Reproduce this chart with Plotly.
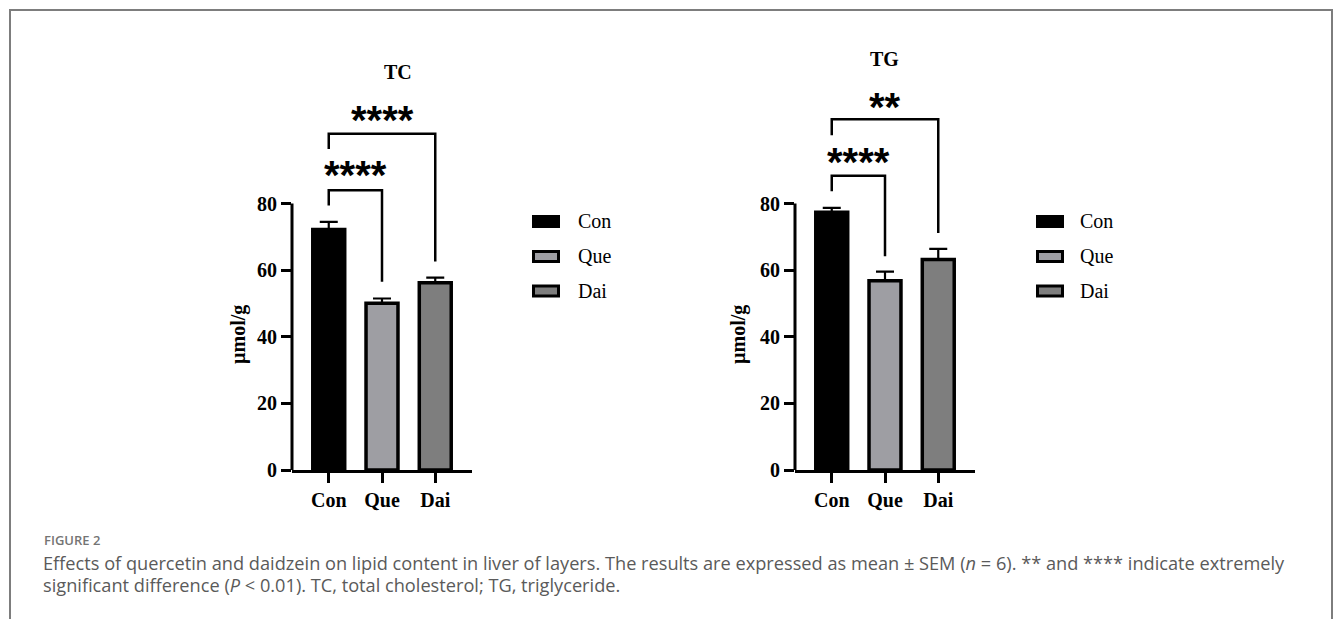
import plotly.graph_objects as go

# ---------------- data ----------------
categories = ["Con", "Que", "Dai"]
tc_means = [72.2, 50.1, 56.2]
tc_sem = [2.3, 1.4, 1.6]
tg_means = [77.4, 56.8, 63.2]
tg_sem = [1.3, 2.8, 3.2]
y_ticks = [0, 20, 40, 60, 80]
panel_titles = ["TC", "TG"]
y_label = "µmol/g"
# comparisons: (from idx, to idx, bracket top, left leg end, right leg end, stars, star y)
tc_comparisons = [(0, 1, 84.0, 79.4, 56.5, "****", 90.3),
                  (0, 2, 101.0, 96.4, 62.6, "****", 106.8)]
tg_comparisons = [(0, 1, 88.4, 83.7, 64.2, "****", 94.2),
                  (0, 2, 105.3, 100.5, 71.2, "**", 110.8)]
caption_label = "FIGURE 2"
caption_lines = [
    "Effects of quercetin and daidzein on lipid content in liver of layers. The results are expressed as mean ± SEM (<i>n</i> = 6). ** and **** indicate extremely",
    "significant difference (<i>P</i> &lt; 0.01). TC, total cholesterol; TG, triglyceride.",
]

# ---------------- styles ----------------
W, H = 1335, 619
fill_colors = ["#000000", "#9e9ea3", "#7e7e7e"]
SERIF = "Liberation Serif"
YMAX = 118
PXU = 3.33  # pixels per data unit
def px(x):
    return x / W
def py(y):
    return 1 - y / H

fig = go.Figure()

panels = [
    dict(means=tc_means, sem=tc_sem, comps=tc_comparisons, xa="x", ya="y",
         xdom=[px(292), px(472)], title=panel_titles[0], title_pos=(381.5, 72),
         ylab_x=238, leg_rect_x=(532, 560), leg_text_x=576),
    dict(means=tg_means, sem=tg_sem, comps=tg_comparisons, xa="x2", ya="y2",
         xdom=[px(795), px(975)], title=panel_titles[1], title_pos=(885, 59),
         ylab_x=738, leg_rect_x=(1036, 1064), leg_text_x=1078),
]
ydom = [py(470), py(470 - YMAX * PXU)]
leg_rows = [221.5, 256.5, 291]

shapes = []
annotations = []

for i, p in enumerate(panels):
    fig.add_trace(go.Bar(
        x=categories, y=p["means"], xaxis=p["xa"], yaxis=p["ya"],
        width=0.6,
        marker=dict(color=fill_colors, line=dict(color="black", width=3.5)),
        error_y=dict(type="data", symmetric=False, array=p["sem"],
                     arrayminus=[0] * len(p["sem"]), color="black",
                     thickness=2.2, width=9),
        showlegend=False, hoverinfo="skip",
    ))
    suffix = "" if i == 0 else "2"
    # y-axis line from 0 to 80
    shapes.append(dict(type="line", xref=f"x{suffix} domain", yref=f"y{suffix}",
                       x0=0, x1=0, y0=0, y1=y_ticks[-1],
                       line=dict(color="black", width=3)))
    # significance brackets
    for (a, b, top, lb, rb, stars, sy) in p["comps"]:
        xa_ref = f"x{suffix}"
        ya_ref = f"y{suffix}"
        shapes.append(dict(type="path", xref=xa_ref, yref=ya_ref,
                           path=f"M {a},{lb} L {a},{top} L {b},{top} L {b},{rb}",
                           line=dict(color="black", width=2.5)))
        annotations.append(dict(xref=xa_ref, yref=ya_ref, x=(a + b) / 2, y=sy,
                                text=stars, showarrow=False, yanchor="middle",
                                yshift=-6,
                                font=dict(family="Liberation Sans", size=40,
                                          color="black", weight="bold")))
    # title
    tx, ty = p["title_pos"]
    annotations.append(dict(xref="paper", yref="paper", x=px(tx), y=py(ty),
                            text=p["title"], showarrow=False, yanchor="middle",
                            font=dict(family=SERIF, size=20, color="black",
                                      weight="bold")))
    # y label
    annotations.append(dict(xref="paper", yref="paper", x=px(p["ylab_x"]), y=py(335),
                            text=y_label, showarrow=False, textangle=-90,
                            xanchor="center", yanchor="middle",
                            font=dict(family=SERIF, size=20, color="black",
                                      weight="bold")))
    # legend
    x0, x1 = p["leg_rect_x"]
    for k, cat in enumerate(categories):
        yc = leg_rows[k]
        if k == 0:
            shapes.append(dict(type="rect", xref="paper", yref="paper",
                               x0=px(x0), x1=px(x1), y0=py(yc - 6.5), y1=py(yc + 6.5),
                               fillcolor=fill_colors[k], line=dict(width=0)))
        else:
            shapes.append(dict(type="rect", xref="paper", yref="paper",
                               x0=px(x0 + 1.5), x1=px(x1 - 1.5),
                               y0=py(yc - 5), y1=py(yc + 5),
                               fillcolor=fill_colors[k],
                               line=dict(color="black", width=3)))
        annotations.append(dict(xref="paper", yref="paper", x=px(p["leg_text_x"]),
                                y=py(yc), text=cat, showarrow=False,
                                xanchor="left", yanchor="middle",
                                font=dict(family=SERIF, size=20, color="black")))

axis_x = dict(range=[-0.69, 2.69], showline=True, linecolor="black", linewidth=3,
              ticks="outside", ticklen=10, tickwidth=3, tickcolor="black",
              showgrid=False, zeroline=False, fixedrange=True, ticklabelstandoff=0,
              automargin=False,
              tickfont=dict(family=SERIF, size=20, color="black", weight="bold"))
axis_y = dict(range=[0, YMAX], domain=ydom, showline=False, ticks="outside",
              ticklen=10, tickwidth=3, tickcolor="black", tickvals=y_ticks,
              ticktext=[str(v) for v in y_ticks], automargin=False,
              showgrid=False, zeroline=False, fixedrange=True,
              tickfont=dict(family=SERIF, size=20, color="black", weight="bold"))

# frame
frame_col = "#7d7d7d"
shapes.append(dict(type="path", xref="paper", yref="paper",
                   path=f"M {px(10)},{py(619)} L {px(10)},{py(10)} L {px(1332)},{py(10)} L {px(1332)},{py(619)}",
                   line=dict(color=frame_col, width=2)))

# caption
annotations.append(dict(xref="paper", yref="paper", x=px(42), y=py(540),
                        text=caption_label, showarrow=False, xanchor="left",
                        yanchor="middle",
                        font=dict(family="Open Sans", size=13, color="#747474",
                                  weight=600)))
for j, line in enumerate(caption_lines):
    annotations.append(dict(xref="paper", yref="paper", x=px(41), y=py(563 + 22 * j),
                            text=line, showarrow=False, xanchor="left",
                            yanchor="middle",
                            font=dict(family="Open Sans", size=18.2, color="#5a5a5a")))

fig.update_layout(
    width=W, height=H, margin=dict(l=0, r=0, t=0, b=0, pad=0, autoexpand=False),
    paper_bgcolor="white", plot_bgcolor="rgba(0,0,0,0)",
    xaxis=dict(axis_x, domain=panels[0]["xdom"], anchor="y"),
    yaxis=dict(axis_y, anchor="x"),
    xaxis2=dict(axis_x, domain=panels[1]["xdom"], anchor="y2"),
    yaxis2=dict(axis_y, anchor="x2"),
    shapes=shapes, annotations=annotations, bargap=0.4,
)

fig.write_html("out.html", config={"displayModeBar": False},
               post_script="document.documentElement.style.margin='0px';document.body.style.margin='0px';document.body.style.overflow='hidden';")
